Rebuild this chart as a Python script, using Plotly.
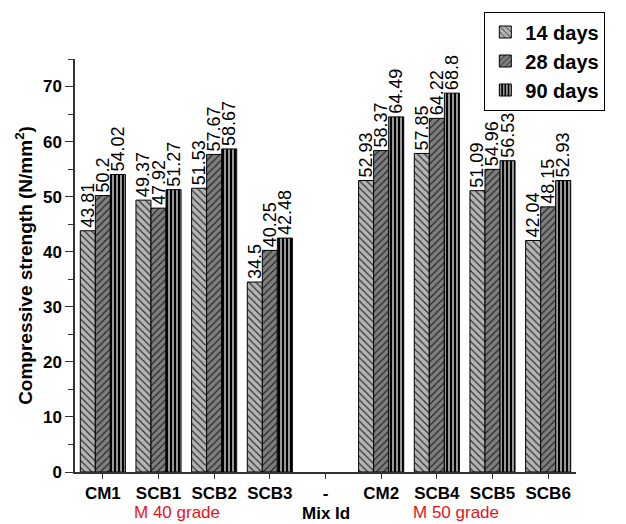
import plotly.graph_objects as go

# Mix designs (the "-" slot separates the M40 and M50 groups)
mix_ids = ["CM1", "SCB1", "SCB2", "SCB3", "-", "CM2", "SCB4", "SCB5", "SCB6"]

# Compressive strength (N/mm²) by curing age
strength_14 = [43.81, 49.37, 51.53, 34.5, None, 52.93, 57.85, 51.09, 42.04]
strength_28 = [50.2, 47.92, 57.67, 40.25, None, 58.37, 64.22, 54.96, 48.15]
strength_90 = [54.02, 51.27, 58.67, 42.48, None, 64.49, 68.8, 56.53, 52.93]

series = [
    ("14 days", strength_14, dict(shape="\\", bgcolor="#b4b4b4", fgcolor="#2a2a2a", size=5, solidity=0.22)),
    ("28 days", strength_28, dict(shape="/", bgcolor="#7e7e7e", fgcolor="#222222", size=5, solidity=0.22)),
    ("90 days", strength_90, dict(shape="|", bgcolor="#000000", fgcolor="#ffffff", size=4, solidity=0.3)),
]

FONT = "Arial, Liberation Sans, sans-serif"

def fmt(v):
    return "" if v is None else f"{v:g}"

fig = go.Figure()
for name, vals, pat in series:
    fig.add_trace(go.Bar(
        name=name,
        x=mix_ids,
        y=vals,
        text=[fmt(v) for v in vals],
        textposition="outside",
        textangle=-90,
        constraintext="none",
        cliponaxis=False,
        textfont=dict(family=FONT, size=18, color="black"),
        marker=dict(color=pat["bgcolor"], pattern=dict(fillmode="replace", **pat),
                    line=dict(color="black", width=1)),
    ))

axis_font = dict(family=FONT, size=16, color="black")

fig.update_layout(
    width=626, height=524,
    margin=dict(l=75, r=50, t=55, b=52),
    paper_bgcolor="white", plot_bgcolor="white",
    barmode="group", bargap=0.19, bargroupgap=0,
    font=dict(family=FONT, color="black"),
    legend=dict(
        x=0.817, y=1.115, xanchor="left", yanchor="top",
        bordercolor="black", borderwidth=1, bgcolor="white",
        font=dict(family=FONT, size=20, color="black", weight="bold"),
        tracegroupgap=0, itemwidth=30,
    ),
    xaxis=dict(
        type="category", range=[-0.5, 8.5], automargin=False,
        showline=True, linecolor="#333333", linewidth=1.5,
        ticks="outside", ticklen=5, tickcolor="#333333",
        tickfont=dict(axis_font, weight="bold", size=17),
    ),
    yaxis=dict(
        range=[0, 75], dtick=10, tick0=0, automargin=True,
        showline=True, linecolor="#333333", linewidth=1.5,
        ticks="outside", ticklen=8, tickcolor="#333333",
        minor=dict(dtick=5, ticks="outside", ticklen=5, tickcolor="#333333"),
        showgrid=False, zeroline=False,
        tickfont=dict(axis_font, weight="bold", size=17),
        title=dict(text="Compressive strength (N/mm<sup>2</sup>)",
                   font=dict(axis_font, size=19, weight="bold"), standoff=5),
    ),
)

# Axis caption and grade group labels along the bottom edge
fig.add_annotation(
    x=4, xref="x", y=0, yref="paper", yanchor="bottom", yshift=-52,
    text="<b>Mix Id</b>", showarrow=False, borderpad=0,
    font=dict(family=FONT, size=17, color="black"),
)
for label, xpos in [("M 40 grade", 1.33), ("M 50 grade", 6.35)]:
    fig.add_annotation(
        x=xpos, xref="x", y=0, yref="paper", yanchor="bottom", yshift=-51,
        text=label, showarrow=False, borderpad=0,
        font=dict(family=FONT, size=17, color="#e8141b"),
    )

fig.write_html("out.html")
